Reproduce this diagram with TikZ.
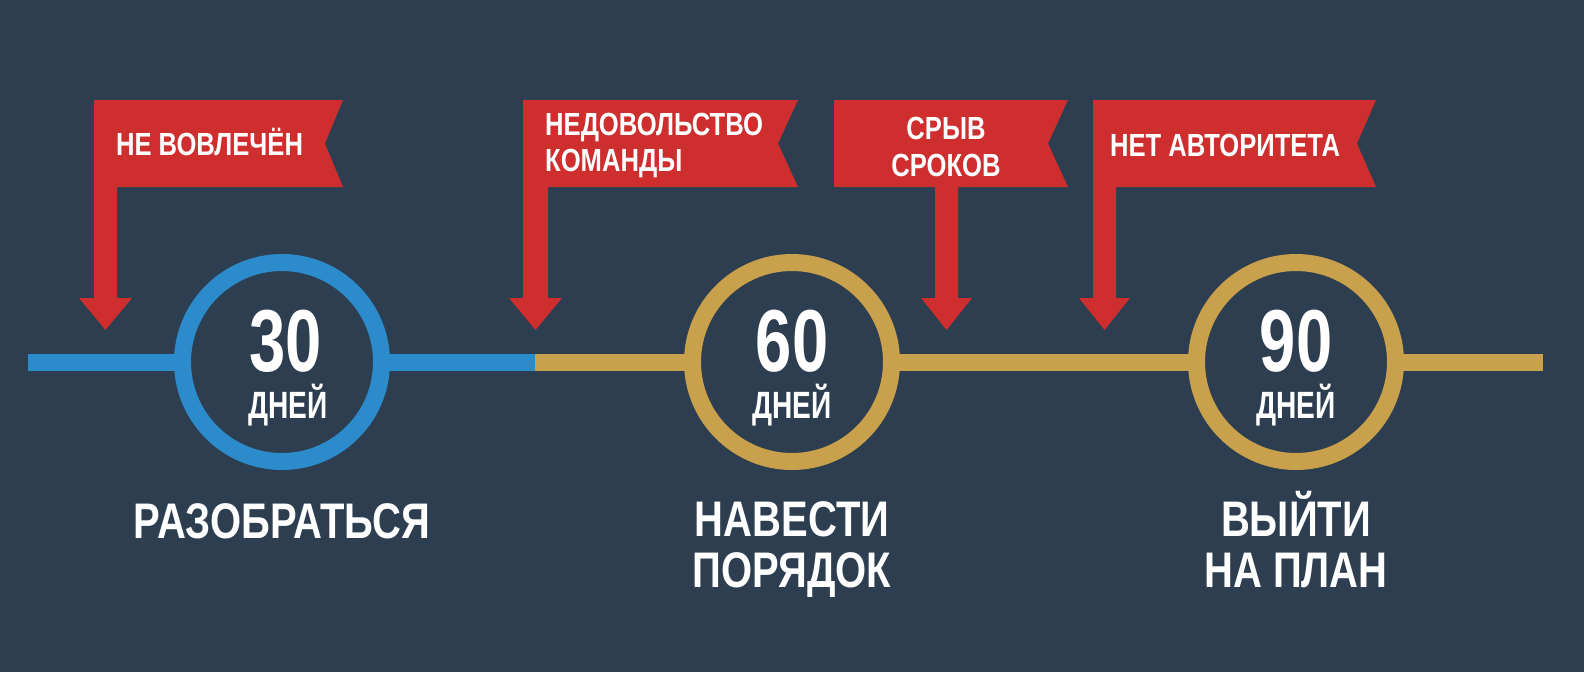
\documentclass[tikz,border=0pt]{standalone}
\usepackage{fontspec}
\setmainfont{Liberation Sans}[FakeStretch=0.8]
\newfontfamily\narrowfont{Liberation Sans}[FakeStretch=0.74]
\definecolor{bg}{HTML}{2D3E50}
\definecolor{flagred}{HTML}{CF2E2E}
\definecolor{lineblue}{HTML}{2B8BCB}
\definecolor{linegold}{HTML}{C9A04B}
\tikzset{
  flagshape/.style={fill=flagred},
  ring/.style={line width=17pt, fill=bg},
  track/.style={line width=17pt},
  txt/.style={text=white, inner sep=0pt, anchor=base},
  flagtxt/.style={txt, font=\fontsize{32}{36}\selectfont\bfseries},
  numtxt/.style={txt, font=\narrowfont\fontsize{88}{92}\selectfont\bfseries},
  daytxt/.style={txt, font=\narrowfont\fontsize{38}{42}\selectfont\bfseries},
  goaltxt/.style={txt, font=\fontsize{50}{54}\selectfont\bfseries},
}
\begin{document}
\begin{tikzpicture}[x=1pt,y=-1pt]
\fill[bg] (0,0) rectangle (1584,672);
\useasboundingbox (0,0) rectangle (1584,672);

% timeline
\coordinate (L0) at (28,362);
\coordinate (L1) at (535,362);
\coordinate (L2) at (1543,362);
\draw[track, lineblue] (L0) -- (L1);
\draw[track, linegold] (L1) -- (L2);

% circles
\node[circle, draw=lineblue, ring, minimum size=199pt] (c1) at (282,362) {};
\node[circle, draw=linegold, ring, minimum size=199pt] (c2) at (792,362) {};
\node[circle, draw=linegold, ring, minimum size=199pt] (c3) at (1296,362) {};

% flags
\fill[flagshape] (94,100) -- (343,100) -- (325,143.5) -- (343,187) -- (117,187)
  -- (117,298) -- (132,298) -- (105.5,330) -- (79,298) -- (94,298) -- cycle;
\fill[flagshape] (523,100) -- (798,100) -- (778,143.5) -- (798,187) -- (548,187)
  -- (548,298) -- (562,298) -- (535.5,330) -- (509,298) -- (523,298) -- cycle;
\fill[flagshape] (834,100) -- (1068,100) -- (1048,143.5) -- (1068,187) -- (958,187)
  -- (958,298) -- (972,298) -- (946.5,330) -- (921,298) -- (935,298) -- (935,187)
  -- (834,187) -- cycle;
\fill[flagshape] (1093,100) -- (1376,100) -- (1357,143.5) -- (1376,187) -- (1116,187)
  -- (1116,298) -- (1130,298) -- (1104.5,330) -- (1079,298) -- (1093,298) -- cycle;

% flag texts
\node[flagtxt] (f1) at (209.5,155) {НЕ ВОВЛЕЧЁН};
\node[flagtxt, anchor=base west] (f2a) at (545,135) {НЕДОВОЛЬСТВО};
\node[flagtxt, anchor=base west] (f2b) at (545,171) {КОМАНДЫ};
\node[flagtxt] (f3a) at (946,139) {СРЫВ};
\node[flagtxt] (f3b) at (946,176) {СРОКОВ};
\node[flagtxt] (f4) at (1225,156) {НЕТ АВТОРИТЕТА};

% circle texts
\node[numtxt] (n1) at (286,371) {30};
\node[daytxt] (d1) at (288,418) {ДНЕЙ};
\node[numtxt] (n2) at (792,371) {60};
\node[daytxt] (d2) at (792,418) {ДНЕЙ};
\node[numtxt] (n3) at (1296,371) {90};
\node[daytxt] (d3) at (1296,418) {ДНЕЙ};

% goals
\node[goaltxt] (g1) at (282,538) {РАЗОБРАТЬСЯ};
\node[goaltxt] (g2a) at (792,536) {НАВЕСТИ};
\node[goaltxt] (g2b) at (792,587) {ПОРЯДОК};
\node[goaltxt] (g3a) at (1296,536) {ВЫЙТИ};
\node[goaltxt] (g3b) at (1296,587) {НА ПЛАН};
\end{tikzpicture}
\end{document}
